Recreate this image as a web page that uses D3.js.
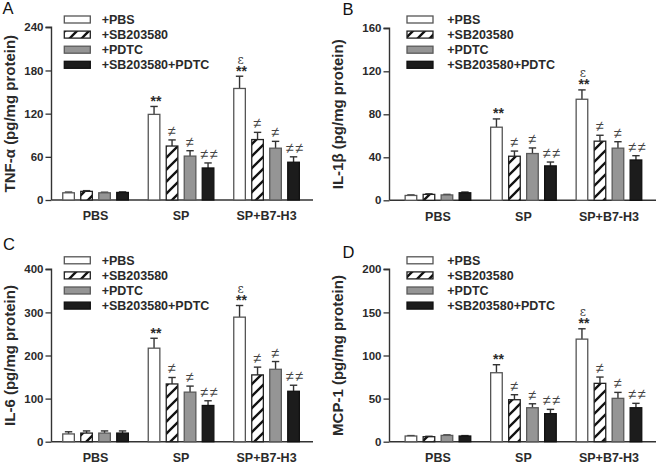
<!DOCTYPE html>
<html><head><meta charset="utf-8">
<script src="https://cdn.jsdelivr.net/npm/d3@7"></script>
<style>
html,body{margin:0;padding:0;background:#fff;}
svg{display:block;font-family:"Liberation Sans",Arial,sans-serif;}
</style></head>
<body><svg id="c" width="656" height="463"></svg>
<script>
const groups = ["PBS", "SP", "SP+B7-H3"];
const series = ["+PBS", "+SB203580", "+PDTC", "+SB203580+PDTC"];

const tnfMean = [[10, 12, 10, 10.5], [119, 75, 61, 44.5], [155, 84, 72, 52.5]];
const tnfErr  = [[1, 1, 0.8, 0.8], [11, 8.5, 7.5, 7], [17, 10, 9.5, 7.5]];
const tnfTicks = [0, 60, 120, 180, 240];

const il1bMean = [[4.5, 5.5, 5, 7], [68, 41, 43.5, 32], [94, 55, 48.5, 37.5]];
const il1bErr  = [[0.5, 0.5, 0.5, 0.7], [7.7, 4.8, 5.2, 3.6], [8.7, 5.5, 6, 4]];
const il1bTicks = [0, 40, 80, 120, 160];

const il6Mean = [[18, 20, 20, 20], [217, 134, 115, 84], [289, 155, 168, 117]];
const il6Err  = [[5, 5, 5, 5], [23, 15, 14, 11], [27, 18, 18, 14]];
const il6Ticks = [0, 100, 200, 300, 400];

const mcpMean = [[6.6, 5.8, 7.3, 6.6], [80, 48.7, 39.4, 32.5], [119, 67.7, 50.3, 39.4]];
const mcpErr  = [[0.5, 0.5, 0.6, 0.5], [9.3, 5.8, 4.6, 5], [12, 7.3, 6.9, 5.1]];
const mcpTicks = [0, 50, 100, 150, 200];

const starMarks = [["", "", "", ""], ["**", "", "", ""], ["**", "", "", ""]];
const epsMarks  = [["", "", "", ""], ["", "", "", ""], ["ε", "", "", ""]];
const neqMarks  = [["", "", "", ""], ["", "≠", "≠", "≠≠"], ["", "≠", "≠", "≠≠"]];

const panels = [
  {letter: "A", title: "TNF-α (pg/mg protein)", mean: tnfMean, err: tnfErr, ticks: tnfTicks,
   axisX: 51.5, gStart: 52.8, xEnd: 313, y0: 200, yTop: 27.3, letterX: 2.5, letterY: 13.5,
   legX: 64.3, legTextX: 101.7, legY: 19.5, titleX: 9},
  {letter: "B", title: "IL-1β (pg/mg protein)", mean: il1bMean, err: il1bErr, ticks: il1bTicks,
   axisX: 389.5, gStart: 395.2, xEnd: 656, y0: 200.3, yTop: 28.3, letterX: 342.5, letterY: 15,
   legX: 407, legTextX: 447.3, legY: 19.5, titleX: 337},
  {letter: "C", title: "IL-6 (pg/mg protein)", mean: il6Mean, err: il6Err, ticks: il6Ticks,
   axisX: 51.5, gStart: 52.8, xEnd: 313, y0: 441.7, yTop: 269.3, letterX: 3, letterY: 250,
   legX: 64.3, legTextX: 101.7, legY: 260.3, titleX: 9},
  {letter: "D", title: "MCP-1 (pg/mg protein)", mean: mcpMean, err: mcpErr, ticks: mcpTicks,
   axisX: 389.5, gStart: 395.2, xEnd: 656, y0: 441.7, yTop: 269.3, letterX: 342.5, letterY: 258.3,
   legX: 407, legTextX: 447.3, legY: 260.3, titleX: 337}
];

const svg = d3.select("#c");
const defs = svg.append("defs");
const pat = defs.append("pattern").attr("id", "hatch").attr("patternUnits", "userSpaceOnUse")
  .attr("width", 12).attr("height", 12);
pat.append("rect").attr("width", 12).attr("height", 12).attr("fill", "#fff");
pat.append("path").attr("d", "M-3,3 L3,-3 M0,12 L12,0 M9,15 L15,9")
  .attr("stroke", "#111").attr("stroke-width", 2.3);

const fills = ["#ffffff", "url(#hatch)", "#959595", "#1c1c1c"];
const strokes = ["#555", "#222", "#5a5a5a", "#111"];
const groupStep = 85.5;
const FF = "Liberation Sans, Arial, sans-serif";

panels.forEach(p => {
  const g = svg.append("g");
  const maxV = p.ticks[p.ticks.length - 1];
  const y = d3.scaleLinear().domain([0, maxV]).range([p.y0, p.yTop]);
  const x0 = d3.scaleBand().domain(groups).range([p.gStart, p.gStart + groupStep * groups.length]).padding(0);
  const x1 = d3.scaleBand().domain(series).range([0, groupStep]).paddingInner(0.3).paddingOuter(0.525);

  // y axis
  const yAxis = d3.axisLeft(y).tickValues(p.ticks).tickSize(6).tickPadding(2);
  const ya = g.append("g").attr("transform", `translate(${p.axisX},0)`).call(yAxis);
  ya.select(".domain").attr("stroke", "#333").attr("stroke-width", 1.4).attr("d", `M-6,${p.yTop}H0V${p.y0}`);
  ya.selectAll(".tick line").attr("stroke", "#333").attr("stroke-width", 1.3);
  ya.selectAll(".tick text").attr("font-size", 11.5).attr("font-weight", "bold").attr("fill", "#2a2a2a")
    .attr("font-family", FF);

  // x axis
  const xAxis = d3.axisBottom(x0).tickSize(0).tickPadding(11.5);
  const xa = g.append("g").attr("transform", `translate(0,${p.y0})`).call(xAxis);
  xa.select(".domain").attr("stroke", "#333").attr("stroke-width", 1.4).attr("d", `M${p.axisX},0H${p.xEnd}`);
  xa.selectAll(".tick text").attr("font-size", 12.5).attr("font-weight", "bold").attr("fill", "#2a2a2a")
    .attr("font-family", FF).attr("dy", "0.71em");

  // bars
  groups.forEach((grp, gi) => {
    series.forEach((s, si) => {
      const v = p.mean[gi][si], e = p.err[gi][si];
      const bx = x0(grp) + x1(s), bw = x1.bandwidth();
      const cx = bx + bw / 2;
      g.append("line").attr("x1", cx).attr("x2", cx).attr("y1", y(v)).attr("y2", y(v + e))
        .attr("stroke", "#333").attr("stroke-width", 1.4);
      g.append("line").attr("x1", cx - 3.7).attr("x2", cx + 3.7).attr("y1", y(v + e)).attr("y2", y(v + e))
        .attr("stroke", "#333").attr("stroke-width", 1.4);
      g.append("rect").attr("x", bx + 0.5).attr("y", y(v)).attr("width", bw - 1).attr("height", p.y0 - y(v))
        .attr("fill", fills[si]).attr("stroke", strokes[si]).attr("stroke-width", 1.3);
      const top = y(v + e);
      if (starMarks[gi][si]) {
        g.append("text").attr("x", cx + 2).attr("y", top - 0.5).attr("text-anchor", "middle")
          .attr("font-size", 14).attr("font-weight", "bold").attr("fill", "#2a2a2a").text(starMarks[gi][si]);
      }
      if (epsMarks[gi][si]) {
        g.append("text").attr("x", cx + 1).attr("y", top - 12.5).attr("text-anchor", "middle")
          .attr("font-size", 12).attr("fill", "#444").attr("font-family", "DejaVu Serif, serif").text(epsMarks[gi][si]);
      }
      if (neqMarks[gi][si]) {
        g.append("text").attr("x", cx + (neqMarks[gi][si].length > 1 ? 2 : 0)).attr("y", top - 4)
          .attr("text-anchor", "middle").attr("font-size", 14.5).attr("fill", "#444")
          .attr("letter-spacing", neqMarks[gi][si].length > 1 ? 1.5 : 0).text(neqMarks[gi][si]);
      }
    });
  });

  // y title
  g.append("text").attr("transform", `translate(${p.titleX + 5.5},${(p.y0 + p.yTop) / 2}) rotate(-90)`)
    .attr("text-anchor", "middle").attr("font-size", 15).attr("font-weight", "bold").attr("fill", "#2a2a2a").text(p.title);

  // panel letter
  g.append("text").attr("x", p.letterX).attr("y", p.letterY).attr("font-size", 16.5).attr("fill", "#111").text(p.letter);

  // legend
  series.forEach((s, si) => {
    const cy = p.legY + si * 15.1;
    g.append("rect").attr("x", p.legX).attr("y", cy - 3.5).attr("width", 26).attr("height", 7)
      .attr("fill", fills[si]).attr("stroke", strokes[si]).attr("stroke-width", 1.3);
    g.append("text").attr("x", p.legTextX).attr("y", cy).attr("dy", "0.36em")
      .attr("font-size", 12.5).attr("font-weight", "bold").attr("fill", "#2a2a2a").text(s);
  });
});
</script></body></html>
